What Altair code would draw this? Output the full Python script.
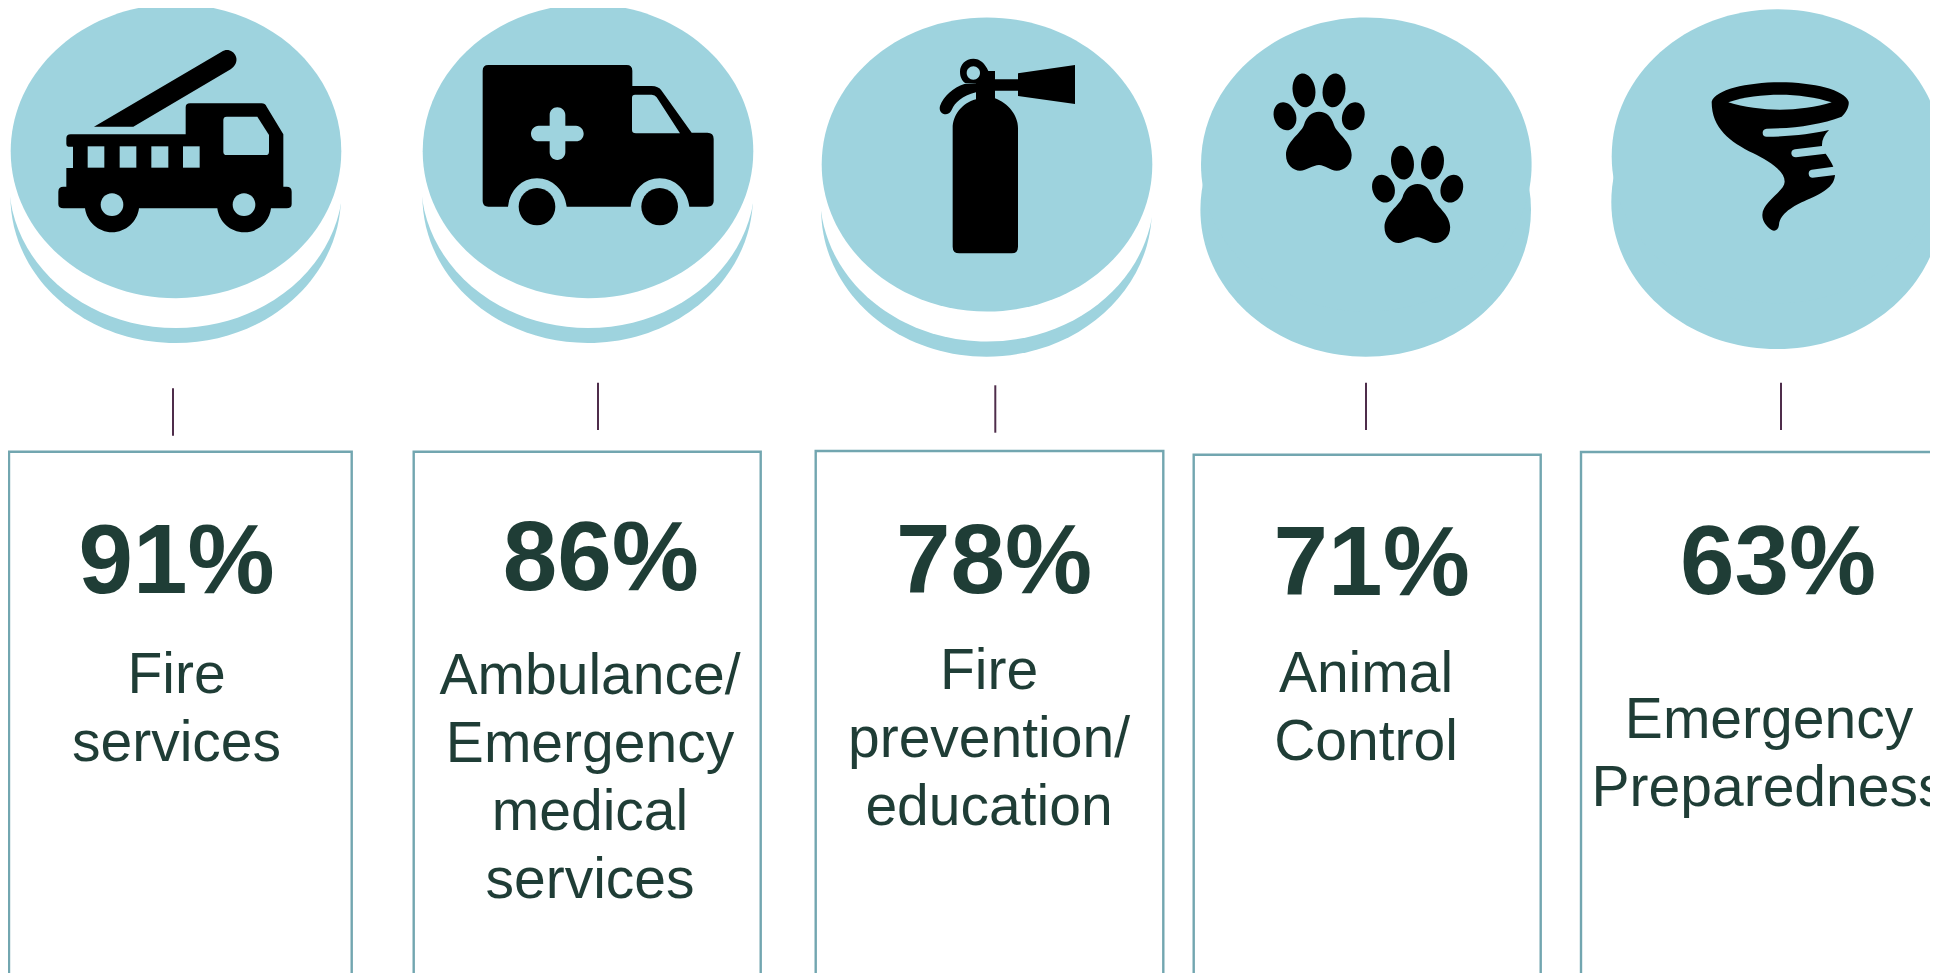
import math
import altair as alt
import pandas as pd

# ---- content -------------------------------------------------------------
percents = ["91%", "86%", "78%", "71%", "63%"]
percent_x = [176.5, 600.8, 994, 1371.7, 1778]
percent_y = [592.7, 590, 592.7, 595, 594]

label_lines = [
    ["Fire", "services"],
    ["Ambulance/", "Emergency", "medical", "services"],
    ["Fire", "prevention/", "education"],
    ["Animal", "Control"],
    ["Emergency", "Preparedness"],
]
label_x = [176.5, 590, 989, 1366, 1769]
label_y = [692.7, 694, 689, 691.7, 737.7]
LINE_STEP = 68

# circles: main disc, rear disc, whether a white gap separates them
disc_x = [176, 588, 987, 1366.3, 1777]
disc_y = [151.2, 151.2, 164.5, 164.5, 156.3]
rear_x = [175.7, 587.7, 986.5, 1365.7, 1776.6]
rear_y = [196, 196, 209.7, 209.7, 202]
gap_y = [181, 181, 194.5]
gap_x = [176, 588, 987]

# connector ticks
tick_x = [173, 598, 995.3, 1366, 1781]
tick_y1 = [388.3, 382.7, 385.3, 382.7, 382.7]
tick_y2 = [435.7, 430, 432.7, 430, 430]

# cards (open at the bottom of the picture; the last runs off the right edge)
card_left = [9, 413.7, 815.7, 1193.7, 1581]
card_right = [351.7, 760.7, 1163.3, 1540.7, 2000]
card_top = [451.7, 451.7, 451, 454.7, 452]
CARD_BOTTOM = 1000

TEAL = "#9ed3de"
INK = "#1f3d36"
CARD = "#72a6b0"
TICK = "#4f2d4b"
FONT = "Liberation Sans"


# ---- glyph outlines (units: one third of a pixel) ---------------------------
def ell(cx, cy, rx, ry, rot=0.0):
    k = 0.5522848
    pts = [(1, 0), (1, k), (k, 1), (0, 1), (-k, 1), (-1, k), (-1, 0),
           (-1, -k), (-k, -1), (0, -1), (k, -1), (1, -k), (1, 0)]
    c, s = math.cos(math.radians(rot)), math.sin(math.radians(rot))
    out = []
    for px, py in pts:
        x, y = px * rx, py * ry
        out.append((cx + x * c - y * s, cy + x * s + y * c))
    d = f"M{out[0][0]:.1f},{out[0][1]:.1f}"
    for i in range(1, len(out), 3):
        d += "C" + " ".join(f"{a:.1f},{b:.1f}" for a, b in out[i:i + 3])
    return d + "Z"


def box(x0, y0, x1, y1):
    return f"M{x0},{y0}L{x1},{y0}L{x1},{y1}L{x0},{y1}Z"


PAW_BLACK = [
    ell(342, 271, 34, 51, -8), ell(432, 271, 34, 51, 8),
    ell(285, 349, 33, 43, -20), ell(490, 349, 33, 43, 20),
    "M387,335C410,335 425,350 432,375C440,400 485,425 485,465C485,495 462,512 440,512"
    "C420,512 405,495 387,495C369,495 350,512 330,512C310,512 288,495 288,465"
    "C288,425 333,400 342,375C349,350 365,335 387,335Z",
]

ICONS = [
    # fire engine
    dict(x=0, y=0, black=[
        "M282,380L665,155C680,145 700,150 708,170C713,185 705,198 692,208L400,380Z",
        "M212,403L557,403L557,322Q557,310 570,310L785,310Q795,310 800,320L850,403L850,560L860,560"
        "Q875,560 875,575L875,612Q875,625 860,625L813,625C808,665 775,697 733,697"
        "C690,697 657,665 652,625L417,625C412,665 378,697 336,697C295,697 260,665 255,625L190,625"
        "Q175,625 175,612L175,575Q175,560 190,560L199,560L199,504L219,504L219,440L205,440"
        "Q199,440 199,432L199,415Q199,403 212,403Z",
    ], hole=[
        box(263, 439, 313, 503), box(359, 439, 409, 503),
        box(454, 439, 505, 503), box(549, 439, 599, 503),
        "M680,350L772,350L807,405L807,455Q807,465 797,465L680,465Q670,465 670,455L670,360Q670,350 680,350Z",
        ell(336, 614, 34, 34), ell(732, 614, 34, 34),
    ]),
    # ambulance
    dict(x=400, y=0, black=[
        "M265,195L680,195Q697,195 697,212L697,258L755,258Q775,258 785,272L875,398L922,398"
        "Q941,398 941,417L941,603Q941,620 922,620L868,620C862,570 825,535 779,535"
        "C733,535 698,570 692,620L500,620C494,570 457,535 411,535C365,535 330,570 324,620"
        "L265,620Q248,620 248,603L248,212Q248,195 265,195Z",
        ell(411, 620, 55, 56), ell(779, 620, 55, 56),
    ], hole=[
        "M705,284L755,284Q765,284 770,292L840,400L708,400Q696,400 696,390L696,293Q696,284 705,284Z",
        "M472,322C485,322 496,332 496,345L496,377L528,377C541,377 551,388 551,401"
        "C551,414 541,424 528,424L496,424L496,457C496,470 485,480 472,480"
        "C459,480 449,470 449,457L449,424L416,424C403,424 393,414 393,401"
        "C393,388 403,377 416,377L449,377L449,345C449,332 459,322 472,322Z",
    ]),
    # extinguisher
    dict(x=800, y=0, black=[
        "M528,280L528,298C485,310 458,345 458,385L458,740Q458,760 478,760L635,760Q654,760 654,740"
        "L654,385C654,345 625,310 585,295L585,272L654,272L654,288L825,312L825,195L654,220L654,238"
        "L585,238L585,213L565,213C555,190 540,176 520,176C497,176 480,193 480,215"
        "C480,232 487,243 497,250L528,250Z",
        "M493,252C460,262 430,290 420,318C416,332 425,343 438,343C447,343 452,336 456,328"
        "C465,308 485,288 528,277L528,250Z",
    ], hole=[ell(520, 219, 20, 20)]),
    # paw prints
    dict(x=1190, y=0, black=PAW_BLACK, hole=[]),
    dict(x=1288.5, y=72.3, black=PAW_BLACK, hole=[]),
    # tornado
    dict(x=1590, y=0, black=[
        "M365,305C375,270 470,247 570,247C670,247 765,270 776,305C778,320 768,338 755,350"
        "C690,375 610,385 530,386Q518,388 518,398Q518,410 530,410C600,410 665,402 717,390"
        "C702,405 695,420 696,438L615,448Q604,450 604,460Q605,472 618,472L707,461"
        "C715,473 724,486 730,500L665,509Q656,511 656,521Q657,533 668,533L735,525"
        "C733,555 710,575 650,600C610,618 570,640 567,675C565,690 555,695 545,690"
        "C530,680 517,665 517,645C517,605 583,575 584,545C584,510 530,480 490,460"
        "C420,425 365,385 365,305Z",
    ], hole=[
        "M415,307C460,290 520,284 570,284C620,284 680,292 725,307C680,322 620,329 570,329"
        "C520,329 460,322 415,307Z",
    ]),
]

DISC_SHAPE = ell(0, 0, 165.3, 147)
GAP_SHAPE = ell(0, 0, 167, 147)
UNIT_SIZE = 4            # symbol path scale 1
ICON_SIZE = 4 / 9        # symbol path scale 1/3

# ---- tables ------------------------------------------------------------------
rear_df = pd.DataFrame({"x": rear_x, "y": rear_y, "shape": DISC_SHAPE})
gap_df = pd.DataFrame({"x": gap_x, "y": gap_y, "shape": GAP_SHAPE})
disc_df = pd.DataFrame({"x": disc_x, "y": disc_y, "shape": DISC_SHAPE})
black_df = pd.DataFrame([{"x": i["x"], "y": i["y"], "shape": p} for i in ICONS for p in i["black"]])
hole_df = pd.DataFrame([{"x": i["x"], "y": i["y"], "shape": p} for i in ICONS for p in i["hole"]])
percent_df = pd.DataFrame({"x": percent_x, "y": percent_y, "t": percents})
label_df = pd.DataFrame([
    {"x": label_x[i], "y": label_y[i] + n * LINE_STEP, "t": line}
    for i, lines in enumerate(label_lines) for n, line in enumerate(lines)
])
tick_df = pd.DataFrame({"x": tick_x, "y": tick_y1, "y2": tick_y2})
card_df = pd.DataFrame({"x": card_left, "x2": card_right, "y": card_top, "y2": CARD_BOTTOM})

# ---- scales: reference pixel coordinates; the page container is 1922 wide -------
W, H = 1922, 965
xs = alt.Scale(domain=[8, 8 + W], range=[0, W], nice=False, zero=False)
ys = alt.Scale(domain=[8, 8 + H], range=[0, H], nice=False, zero=False)
X = alt.X("x:Q", scale=xs, axis=None)
Y = alt.Y("y:Q", scale=ys, axis=None)


def symbols(df, color, size):
    return alt.Chart(df).mark_point(filled=True, opacity=1, strokeWidth=0).encode(
        x=X, y=Y,
        shape=alt.Shape("shape:N", scale=None, legend=None),
        color=alt.value(color),
        size=alt.value(size),
    )


def texts(df, size, weight):
    return alt.Chart(df).mark_text(
        font=FONT, fontSize=size, fontWeight=weight, color=INK,
        align="center", baseline="alphabetic",
    ).encode(x=X, y=Y, text="t:N")


cards = alt.Chart(card_df).mark_rect(fill="white", fillOpacity=0, stroke=CARD, strokeWidth=2.4).encode(
    x=X, x2="x2:Q", y=Y, y2="y2:Q")
ticks = alt.Chart(tick_df).mark_rule(color=TICK, strokeWidth=2).encode(x=X, y=Y, y2="y2:Q")

chart = alt.layer(
    symbols(rear_df, TEAL, UNIT_SIZE),
    symbols(gap_df, "white", UNIT_SIZE),
    symbols(disc_df, TEAL, UNIT_SIZE),
    symbols(black_df, "black", ICON_SIZE),
    symbols(hole_df, TEAL, ICON_SIZE),
    cards,
    ticks,
    texts(label_df, 57, "normal"),
    texts(percent_df, 98, "bold"),
).properties(
    width=W, height=H, padding=0, background="white",
    autosize=alt.AutoSizeParams(type="none"),
).configure_view(stroke=None)

chart.save("out.html", embed_options={"renderer": "svg", "actions": False})
